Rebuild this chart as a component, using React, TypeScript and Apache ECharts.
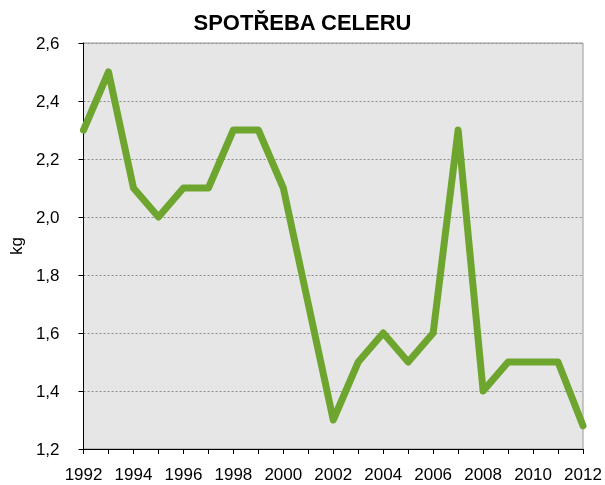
import React, { useEffect, useRef } from "react";
import * as echarts from "echarts";

const years = ["1992","1993","1994","1995","1996","1997","1998","1999","2000","2001","2002","2003","2004","2005","2006","2007","2008","2009","2010","2011","2012"];
const values = [2.3, 2.5, 2.1, 2.0, 2.1, 2.1, 2.3, 2.3, 2.1, 1.7, 1.3, 1.5, 1.6, 1.5, 1.6, 2.3, 1.4, 1.5, 1.5, 1.5, 1.28];
const titleText = "SPOTŘEBA CELERU";
const yName = "kg";

export default function App() {
  const ref = useRef<HTMLDivElement>(null);
  useEffect(() => {
    const chart = echarts.init(ref.current!, null, { renderer: "svg" });
    const font = "'Liberation Sans', Arial, sans-serif";
    chart.setOption({
      animation: false,
      title: {
        text: titleText,
        left: "center",
        top: 11,
        padding: 0,
        textStyle: { fontFamily: font, fontSize: 22, fontWeight: "bold", color: "#000" },
      },
      grid: {
        left: 81, right: 22, top: 43, bottom: 36,
        show: true, backgroundColor: "#e6e6e6", borderColor: "#9a9a9a", borderWidth: 1,
      },
      xAxis: {
        type: "category",
        data: years,
        boundaryGap: false,
        axisLine: { lineStyle: { color: "#000", width: 1 } },
        axisTick: { show: true, interval: 0, length: 5, lineStyle: { color: "#000" } },
        axisLabel: { interval: 1, fontFamily: font, fontSize: 17, color: "#000", margin: 17 },
        splitLine: { show: false },
      },
      yAxis: {
        type: "value",
        min: 1.2, max: 2.6, interval: 0.2,
        name: yName,
        nameLocation: "middle",
        nameGap: 58,
        nameTextStyle: { fontFamily: font, fontSize: 17, color: "#000" },
        axisLine: { show: true, lineStyle: { color: "#000", width: 1 } },
        axisTick: { show: true, length: 5, lineStyle: { color: "#000" } },
        axisLabel: {
          fontFamily: font, fontSize: 17, color: "#000", margin: 24,
          formatter: (v: number) => v.toFixed(1).replace(".", ","),
        },
        splitLine: { show: true, lineStyle: { color: "#8c8c8c", type: [2, 2], width: 1 } },
      },
      series: [
        {
          type: "line",
          data: values,
          symbol: "none",
          lineStyle: { color: "#6ea52e", width: 7, join: "round", cap: "round" },
          clip: true,
        },
      ],
    });
    return () => chart.dispose();
  }, []);
  return <div ref={ref} style={{ position: "fixed", left: 0, top: 0, width: 605, height: 485 }} />;
}
